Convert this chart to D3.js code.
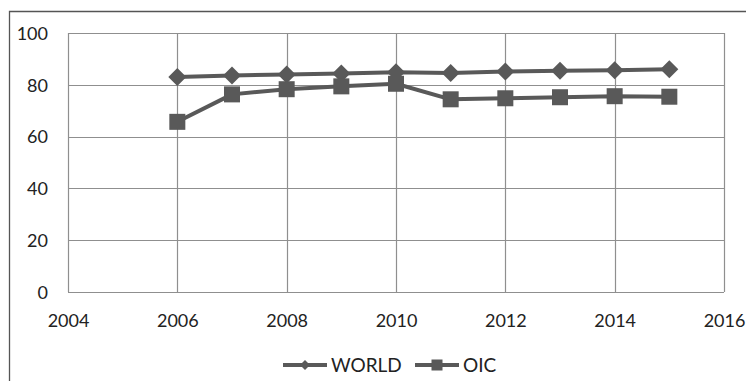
<!DOCTYPE html>
<html>
<head>
<meta charset="utf-8">
<script src="https://cdn.jsdelivr.net/npm/d3@7/dist/d3.min.js"></script>
<style>
  html, body { margin: 0; padding: 0; background: #fff; }
  svg { display: block; }
  text { font-family: Lato, "Open Sans", sans-serif; fill: #222; }
</style>
</head>
<body>
<svg id="chart" width="746" height="381"></svg>
<script>
// Yearly values for the two series
const years = [2006, 2007, 2008, 2009, 2010, 2011, 2012, 2013, 2014, 2015];
const worldValues = [83.0, 83.6, 84.0, 84.4, 84.8, 84.6, 85.1, 85.4, 85.6, 86.0];
const oicValues = [65.7, 76.3, 78.3, 79.4, 80.4, 74.4, 74.8, 75.2, 75.6, 75.4];
const seriesNames = ["WORLD", "OIC"];
const xTicks = [2004, 2006, 2008, 2010, 2012, 2014, 2016];
const yTicks = [0, 20, 40, 60, 80, 100];

const svg = d3.select("#chart");
const W = 746, H = 381;
const plot = { left: 68, right: 724, top: 33, bottom: 292 };
const ink = "#595959";
const gridColor = "#8f8f8f";

// chart frame
svg.append("path")
  .attr("d", `M9.5,${H + 2} V11.5 H${W + 2}`)
  .attr("fill", "none")
  .attr("stroke", "#555")
  .attr("stroke-width", 1.3);

const x = d3.scaleLinear().domain([2004, 2016]).range([plot.left, plot.right]);
const y = d3.scaleLinear().domain([0, 100]).range([plot.bottom, plot.top]);

// gridlines
const grid = svg.append("g");
grid.selectAll("line.h").data(yTicks).join("line")
  .attr("x1", plot.left).attr("x2", plot.right)
  .attr("y1", d => Math.round(y(d)) + 0.5).attr("y2", d => Math.round(y(d)) + 0.5)
  .attr("stroke", gridColor).attr("stroke-width", 1.2);
grid.selectAll("line.v").data(xTicks).join("line")
  .attr("y1", plot.top).attr("y2", plot.bottom)
  .attr("x1", d => Math.round(x(d)) + 0.5).attr("x2", d => Math.round(x(d)) + 0.5)
  .attr("stroke", gridColor).attr("stroke-width", 1.2);

// axes (labels only; gridlines drawn above)
const yAxis = svg.append("g")
  .attr("transform", `translate(${plot.left - 20},0)`)
  .call(d3.axisLeft(y).tickValues(yTicks).tickSize(0).tickPadding(0));
yAxis.select(".domain").remove();
yAxis.selectAll("text").style("font-size", "18px").attr("fill", "#222").attr("dy", "0.35em");

const xAxis = svg.append("g")
  .attr("transform", `translate(0,${plot.bottom + 21})`)
  .call(d3.axisBottom(x).tickValues(xTicks).tickFormat(d3.format("d")).tickSize(0).tickPadding(0));
xAxis.select(".domain").remove();
xAxis.selectAll("text").style("font-size", "18px").attr("fill", "#222").attr("dy", "0.75em");

// series
const series = [
  { name: seriesNames[0], values: worldValues, marker: "diamond" },
  { name: seriesNames[1], values: oicValues, marker: "square" }
];

const line = d3.line().x((d, i) => x(years[i])).y(d => y(d));

function drawMarker(g, type, size) {
  if (type === "diamond") {
    const r = size / 2;
    g.append("path").attr("d", `M0,${-r} L${r},0 L0,${r} L${-r},0 Z`).attr("fill", ink);
  } else {
    g.append("rect").attr("x", -size / 2).attr("y", -size / 2)
      .attr("width", size).attr("height", size).attr("fill", ink);
  }
}

series.forEach(s => {
  svg.append("path")
    .datum(s.values)
    .attr("d", line)
    .attr("fill", "none")
    .attr("stroke", ink)
    .attr("stroke-width", 4)
    .attr("stroke-linejoin", "round");
  s.values.forEach((v, i) => {
    const g = svg.append("g").attr("transform", `translate(${x(years[i])},${y(v)})`);
    drawMarker(g, s.marker, s.marker === "diamond" ? 18 : 16);
  });
});

// legend
const legend = svg.append("g").attr("transform", "translate(0,365)");
const legendItems = [
  { x0: 283, name: seriesNames[0], marker: "diamond" },
  { x0: 415, name: seriesNames[1], marker: "square" }
];
legendItems.forEach(item => {
  legend.append("line")
    .attr("x1", item.x0).attr("x2", item.x0 + 44)
    .attr("y1", 0).attr("y2", 0)
    .attr("stroke", ink).attr("stroke-width", 4);
  const g = legend.append("g").attr("transform", `translate(${item.x0 + 22},0)`);
  drawMarker(g, item.marker, item.marker === "diamond" ? 10 : 11);
  legend.append("text")
    .attr("x", item.x0 + 48).attr("y", 0).attr("dy", "0.36em")
    .style("font-size", "19px")
    .text(item.name);
});
</script>
</body>
</html>
